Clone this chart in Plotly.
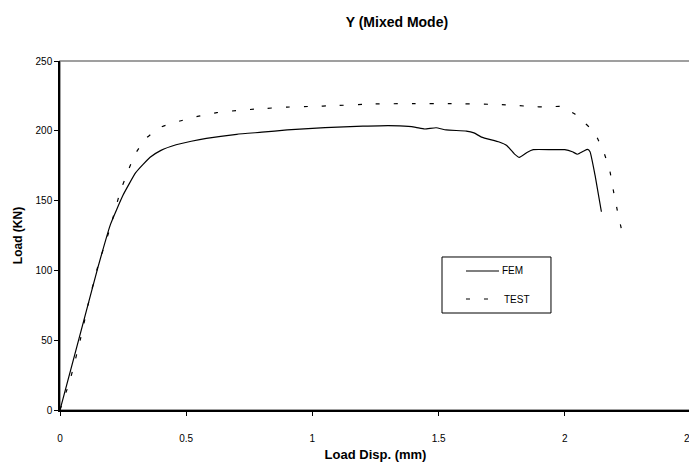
import plotly.graph_objects as go

# ---- data ----
fem_disp = [0, 0.05, 0.10, 0.15, 0.20, 0.25, 0.30, 0.357, 0.40, 0.46, 0.52, 0.58, 0.70,
            0.80, 0.90, 1.00, 1.10, 1.20, 1.30, 1.38, 1.41, 1.445, 1.49, 1.53, 1.61,
            1.64, 1.67, 1.74, 1.77, 1.80, 1.82, 1.85, 1.875, 1.95, 2.00, 2.03, 2.05,
            2.075, 2.09, 2.10, 2.12, 2.145]
fem_load = [0, 34, 68, 102, 133, 154, 170, 181, 186, 190, 192.5, 194.6, 197.5,
            199, 200.6, 201.8, 202.7, 203.3, 203.7, 203.2, 202.5, 201.3, 202.2, 200.6, 199.8,
            198.5, 195.5, 192, 189.5, 183.5, 181, 184.5, 186.5, 186.5, 186.5, 185, 183.2,
            185.5, 186.7, 185, 168, 142]

test_disp = [0, 0.04, 0.08, 0.112, 0.15, 0.198, 0.238, 0.267, 0.297, 0.337, 0.396, 0.475,
             0.55, 0.621, 0.70, 0.779, 0.90, 1.00, 1.083, 1.24, 1.40, 1.55, 1.70, 1.78,
             1.86, 1.935, 1.98, 2.01, 2.04, 2.071, 2.10, 2.124, 2.157, 2.179, 2.192,
             2.208, 2.225]
test_load = [0, 21.5, 50, 76, 103, 130, 156, 170, 183, 194, 202.4, 207,
             210.5, 213, 214.5, 215.6, 217, 217.5, 218, 219.2, 219.5, 219.5, 219, 218.5,
             217.5, 217, 217.5, 215, 212, 207, 202, 196.5, 183.4, 170.7, 157.6,
             143, 129]

x_ticks = [0, 0.5, 1, 1.5, 2, 2.5]
x_tick_labels = ["0", "0.5", "1", "1.5", "2", "2.5"]
y_ticks = [0, 50, 100, 150, 200, 250]
y_tick_labels = ["0", "50", "100", "150", "200", "250"]

series_names = ["FEM", "TEST"]

FONT = "Liberation Sans, Arial, sans-serif"

fig = go.Figure()
fig.add_trace(go.Scatter(x=fem_disp, y=fem_load, mode="lines", name=series_names[0],
                         line=dict(color="black", width=1.2, shape="spline", smoothing=0.4),
                         showlegend=False))
fig.add_trace(go.Scatter(x=test_disp, y=test_load, mode="lines", name=series_names[1],
                         line=dict(color="black", width=1.2, dash="4px,14px",
                                   shape="spline", smoothing=0.4),
                         showlegend=False))

# plot-area border (top / right grey)
fig.add_shape(type="rect", xref="paper", yref="paper", x0=0, y0=0, x1=1, y1=1,
              line=dict(color="#808080", width=1.5), layer="below")

# manual legend box
lx0, lx1, ly0, ly1 = 0.6054, 0.7781, 0.2779, 0.4384
fig.add_shape(type="rect", xref="paper", yref="paper", x0=lx0, y0=ly0, x1=lx1, y1=ly1,
              line=dict(color="black", width=1), fillcolor="white")
fig.add_shape(type="line", xref="paper", yref="paper", x0=0.6434, x1=0.6957,
              y0=0.3983, y1=0.3983, line=dict(color="black", width=1.2))
fig.add_shape(type="line", xref="paper", yref="paper", x0=0.6434, x1=0.6957,
              y0=0.318, y1=0.318, line=dict(color="black", width=1.2, dash="4px,14px"))
fig.add_annotation(text=series_names[0], xref="paper", yref="paper", x=0.6973, y=0.3983,
                   xanchor="left", yanchor="middle", showarrow=False,
                   font=dict(family=FONT, size=10, color="black"))
fig.add_annotation(text=series_names[1], xref="paper", yref="paper", x=0.7005, y=0.318,
                   xanchor="left", yanchor="middle", showarrow=False,
                   font=dict(family=FONT, size=10, color="black"))

# page body has an 8px default margin, so the figure is laid out 8px up/left
fig.update_layout(
    width=697, height=466,
    margin=dict(l=52, r=14, t=53, b=64),
    paper_bgcolor="white", plot_bgcolor="white",
    font=dict(family=FONT, size=10, color="black"),
    title=dict(text="<b>Y (Mixed Mode)</b>", xref="container", x=0.558,
               xanchor="center", yref="container", y=0.97, yanchor="middle",
               font=dict(family=FONT, size=14, color="black")),
    xaxis=dict(range=[0, 2.5], tickvals=x_ticks, ticktext=x_tick_labels,
               showgrid=False, zeroline=False, showline=True, linecolor="black",
               linewidth=1.5, ticks="outside", ticklen=4, tickcolor="black",
               ticklabelstandoff=14, ticklabeloverflow="allow", automargin=False,
               title=dict(text="<b>Load Disp. (mm)</b>", standoff=7,
                          font=dict(family=FONT, size=13, color="black"))),
    yaxis=dict(range=[0, 250], tickvals=y_ticks, ticktext=y_tick_labels,
               showgrid=False, zeroline=False, showline=True, linecolor="black",
               linewidth=1.5, ticks="outside", ticklen=4, tickcolor="black",
               ticklabelstandoff=0, automargin=False,
               title=dict(text="<b>Load (KN)</b>", standoff=10,
                          font=dict(family=FONT, size=12, color="black"))),
)

fig.write_html("out.html")
